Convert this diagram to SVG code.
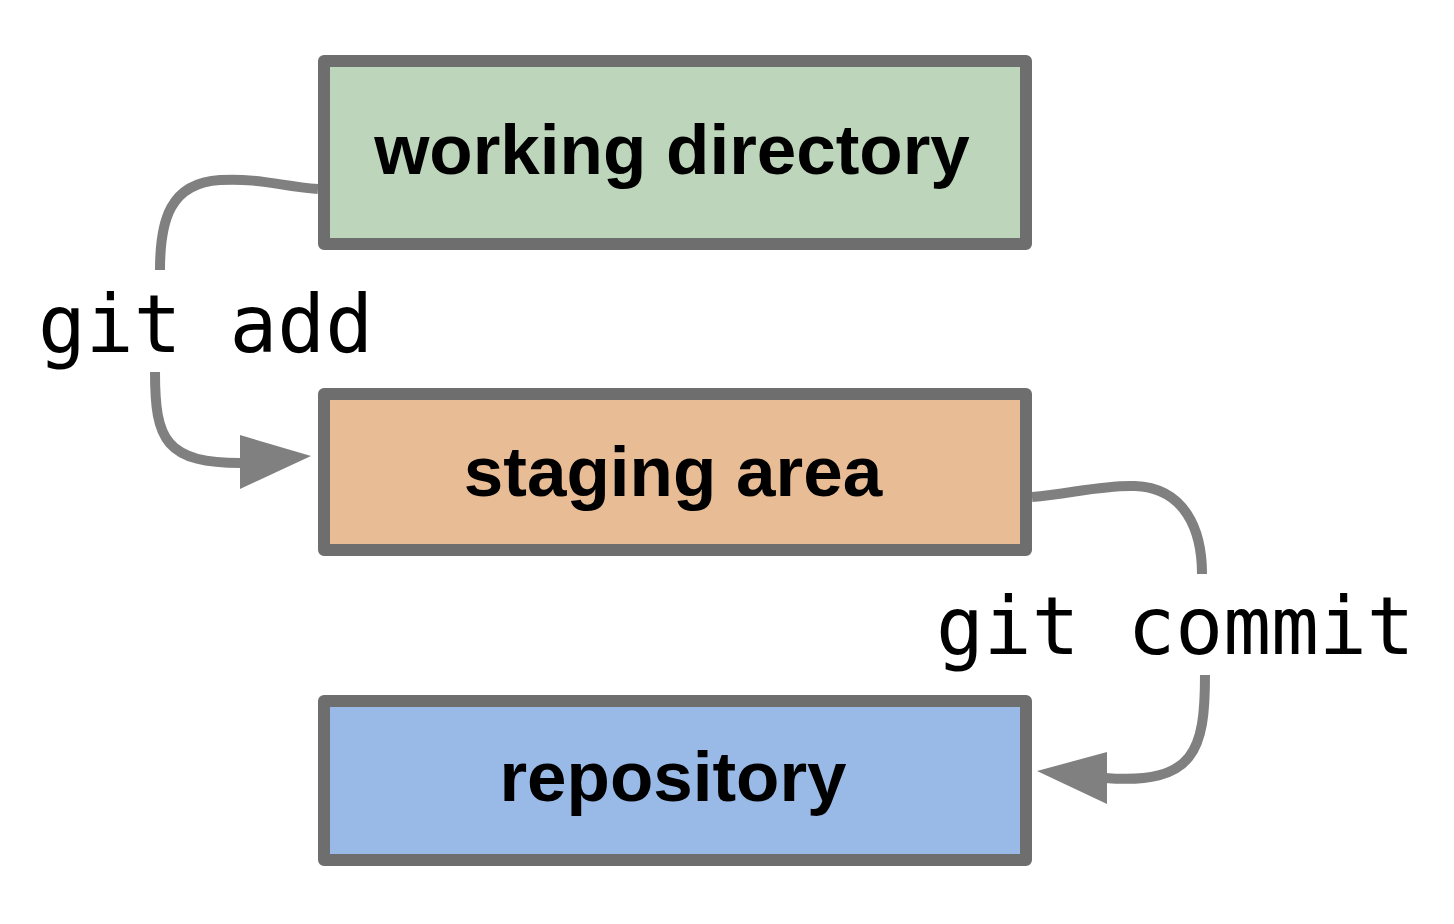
<svg xmlns="http://www.w3.org/2000/svg" width="1454" height="924" viewBox="0 0 1454 924">
<style>
.box{stroke:#6e6e6e;stroke-width:12;stroke-linejoin:round}
.lbl{font-family:"Liberation Sans",Arial,Helvetica,sans-serif;font-weight:bold;font-size:71px;fill:#000;text-anchor:middle}
.cmd{font-family:"DejaVu Sans Mono","Liberation Mono",monospace;font-size:79.5px;fill:#000}
.conn{fill:none;stroke:#808080;stroke-width:10;stroke-linecap:butt}
.head{fill:#808080}
</style>
<rect width="1454" height="924" fill="#fff"/>
<g id="connectors">
<path class="conn" d="M318,189 C280,186 260,178 220,180 C170,183 160,220 160,270"/>
<path class="conn" d="M155,372 C155,440 165,464 245,463"/>
<polygon class="head" points="240,435 311,456 240,489"/>
<path class="conn" d="M1032,497 C1070,494 1100,485 1135,486 C1185,488 1202,530 1202,574"/>
<path class="conn" d="M1205,675 C1205,750 1195,785 1105,778"/>
<polygon class="head" points="1107,752 1037,771 1107,804"/>
<text class="cmd" x="38" y="352">git add</text>
<text class="cmd" x="936" y="654">git commit</text>
</g>
<g id="working-directory">
<rect class="box" x="324" y="61" width="702" height="183" fill="#bdd6bb"/>
<text class="lbl" x="672" y="174">working directory</text>
</g>
<g id="staging-area">
<rect class="box" x="324" y="394" width="702" height="156" fill="#e8bc95"/>
<text class="lbl" x="673" y="496">staging area</text>
</g>
<g id="repository">
<rect class="box" x="324" y="701" width="702" height="159" fill="#99b9e6"/>
<text class="lbl" x="673" y="801">repository</text>
</g>
</svg>
